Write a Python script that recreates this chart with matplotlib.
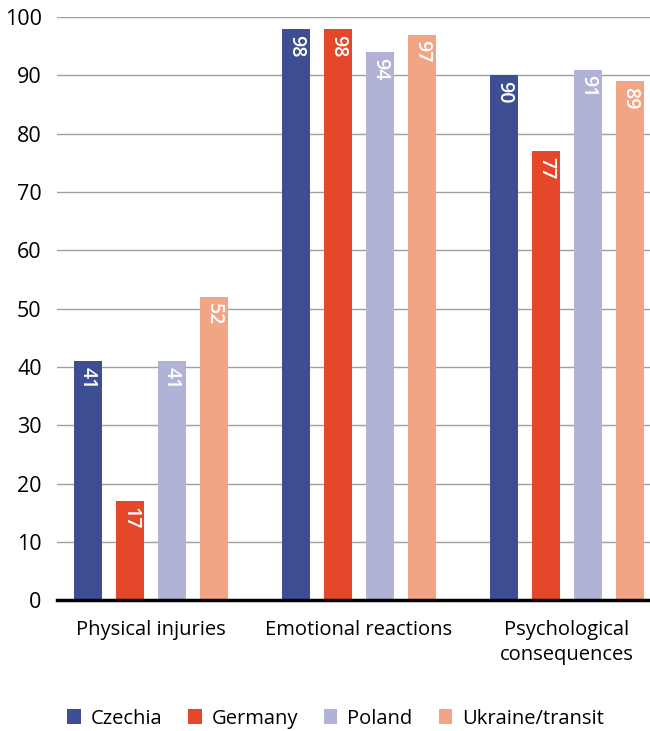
import matplotlib
matplotlib.use("Agg")
import matplotlib.pyplot as plt
import numpy as np

plt.rcParams['font.family'] = ['Open Sans', 'DejaVu Sans']

categories = ["Physical injuries", "Emotional reactions", "Psychological\nconsequences"]
countries = ["Czechia", "Germany", "Poland", "Ukraine/transit"]
values = {
    "Czechia": [41, 98, 90],
    "Germany": [17, 98, 77],
    "Poland": [41, 94, 91],
    "Ukraine/transit": [52, 97, 89],
}
colors = ["#3d4f92", "#e4472a", "#b0b2d6", "#f2a584"]
yticks = [0, 10, 20, 30, 40, 50, 60, 70, 80, 90, 100]

fig = plt.figure(figsize=(6.5, 7.31), dpi=100)
ax = fig.add_axes([0.0877, 0.179, 0.9123, 0.7977])

x = np.arange(len(categories))
w = 28 / 208
step = 42 / 208
for i, c in enumerate(countries):
    pos = x + (i - 1.5) * step
    bars = ax.bar(pos, values[c], width=w, color=colors[i], label=c, zorder=2)
    for b, v in zip(bars, values[c]):
        ax.text(b.get_x() + b.get_width() / 2, v - 1.0, str(v), rotation=-90,
                ha="center", va="top", color="white", fontsize=14,
                fontweight="semibold", zorder=3)

ax.set_xlim(-0.452, 2.399)
ax.set_ylim(0, 100)
ax.set_yticks(yticks)
ax.yaxis.grid(True, color="#a0a0a0", linewidth=1)
ax.set_axisbelow(True)
for s in ["top", "right", "left"]:
    ax.spines[s].set_visible(False)
ax.spines["bottom"].set_linewidth(2.5)
ax.spines["bottom"].set_color("black")
ax.tick_params(axis="y", length=0, pad=11, labelsize=15.5)
ax.tick_params(axis="x", length=0, pad=14, labelsize=14.5)
ax.set_xticks(x)
ax.set_xticklabels(categories, va="top", linespacing=1.35)

ax.legend(loc="center", bbox_to_anchor=(0.47, -0.203), ncol=4, frameon=False,
          fontsize=14.5, handlelength=0.65, handleheight=0.75, handletextpad=0.5,
          columnspacing=1.3)

fig.savefig("out.png", dpi=100)
